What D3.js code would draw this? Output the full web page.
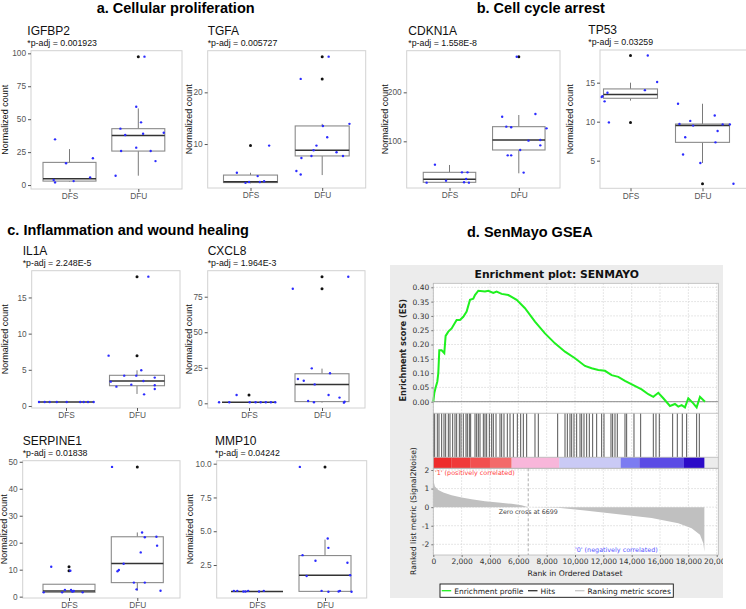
<!DOCTYPE html>
<html><head><meta charset="utf-8">
<script src="https://cdn.jsdelivr.net/npm/d3@7"></script>
<style>body{margin:0;background:#fff} svg{display:block}</style>
</head><body><svg id="c" width="746" height="609"></svg>
<script>
// ---------------- DATA ----------------
const sectionTitles = ["a. Cellular proliferation", "b. Cell cycle arrest", "c. Inflammation and wound healing", "d. SenMayo GSEA"];
const genes = ["IGFBP2", "TGFA", "CDKN1A", "TP53", "IL1A", "CXCL8", "SERPINE1", "MMP10"];
const pAdj = ["0.001923", "0.005727", "1.558E-8", "0.03259", "2.248E-5", "1.964E-3", "0.01838", "0.04242"];
const groups = ["DFS", "DFU"];
const yTickValues = [[0, 25, 50, 75, 100], [10, 20], [100, 200], [5, 10, 15], [0, 5, 10, 15], [0, 25, 50, 75], [0, 10, 20, 30, 40, 50], [2.5, 5, 7.5, 10]];

// jittered samples: [normalized count, jitter (fraction of category step)]
const IGFBP2_DFS = [[34.7, -0.21], [3.8, -0.23], [2.0, -0.21], [16.5, -0.05], [3.0, 0.06], [5.8, 0.30], [20.3, 0.34]];
const IGFBP2_DFU = [[97.5, 0.09], [59.5, -0.03], [47.6, 0.04], [42.8, -0.26], [38, -0.19], [39, 0.07], [39.7, 0.37], [28.4, -0.03], [25.8, -0.25], [25.8, 0.18], [18.2, 0.25], [7.1, -0.33]];
const TGFA_DFS = [[4.45, -0.19], [2.5, -0.07], [2.65, -0.02], [3.8, 0.10], [2.65, 0.13], [2.8, 0.19], [9.7, 0.26]];
const TGFA_DFU = [[26.9, 0.09], [22.6, -0.30], [13.5, 0.01], [13.9, 0.38], [11.3, 0.07], [9.7, -0.08], [8.8, -0.12], [7.3, -0.29], [7.7, -0.15], [8.4, 0.20], [7.7, 0.29], [4.8, -0.36], [4.1, -0.30]];
const CDKN1A_DFS = [[52.4, -0.21], [15.6, -0.33], [19.7, -0.05], [36.7, 0.18], [36.7, 0.26], [23.1, 0.24], [16.3, 0.21], [15.6, 0.28]];
const CDKN1A_DFU = [[272.8, -0.03], [150.3, -0.24], [155.8, 0.24], [129.9, -0.18], [128.6, -0.11], [126.5, 0.40], [101.4, 0.14], [102.7, 0.31], [91.8, 0.31], [71.4, -0.16], [71.4, -0.11], [82.3, 0.02], [36.1, 0.07]];
const TP53_DFS = [[18.48, 0.24], [15.09, 0.37], [14.04, 0.20], [13.70, -0.32], [13.26, -0.39], [13.17, -0.40], [12.61, -0.36], [9.91, -0.30]];
const TP53_DFU = [[12.3, -0.34], [9.7, -0.32], [10.1, -0.17], [9.5, -0.13], [10.8, 0.17], [9.65, 0.28], [9.65, 0.38], [8.8, 0.21], [8.0, -0.24], [7.35, 0.18], [5.8, -0.27], [4.7, -0.03], [2.04, 0.43]];
const IL1A_DFS = [[0.55, -0.38], [0.55, -0.30], [0.55, -0.23], [0.55, -0.13], [0.55, 0.01], [0.55, 0.20], [0.55, 0.25], [0.55, 0.31], [0.55, 0.39]];
const IL1A_DFU = [[17.88, 0.16], [6.96, -0.40], [4.93, 0.06], [4.19, -0.18], [4.19, -0.01], [3.92, 0.25], [3.36, -0.37], [3.46, 0.09], [2.95, -0.08], [2.67, -0.29], [2.86, 0.25], [1.61, 0.10], [2.35, 0.25]];
const CXCL8_DFS = [[5.85, -0.17], [0.7, -0.41], [0.7, -0.27], [0.7, 0.01], [0.7, 0.09], [0.7, 0.16], [0.7, 0.23], [0.7, 0.30], [0.7, 0.36]];
const CXCL8_DFU = [[89, 0.36], [80.6, -0.40], [24.6, -0.14], [21.1, 0.11], [17.1, -0.33], [15.9, -0.25], [13.3, -0.10], [5.85, 0.09], [4.0, 0.24], [1.64, -0.19], [0.7, -0.11], [1.17, 0.31], [0.47, 0.30]];
const SERPINE1_DFS = [[11.1, -0.26], [9.6, 0.02], [1.6, -0.37], [1.6, -0.10], [2.47, -0.06], [2.47, 0.03], [1.85, 0.05], [2.1, 0.07], [1.6, 0.20]];
const SERPINE1_DFU = [[48.1, -0.37], [23.8, 0.07], [22.0, 0.11], [22.2, 0.28], [18.9, 0.29], [16.4, 0.05], [12.2, -0.20], [9.9, -0.27], [9.4, -0.29], [5.2, -0.05], [5.2, 0.11], [2.7, -0.01], [2.2, 0.34]];
const MMP10_DFS = [[0.59, -0.34], [0.59, -0.29], [0.54, -0.20], [0.54, -0.17], [0.59, -0.13], [0.54, 0.03], [0.59, 0.10]];
const MMP10_DFU = [[9.76, -0.37], [4.46, 0.04], [3.77, 0.05], [3.23, -0.33], [2.82, -0.14], [2.67, 0.33], [1.69, -0.27], [1.74, 0.37], [0.59, -0.05], [0.52, 0.05], [0.54, 0.20], [0.59, 0.22], [0.52, 0.39]];

// box statistics per group: [lower whisker, Q1, median, Q3, upper whisker]
const IGFBP2_box = [[2.5, 3.0, 4.8, 17.2, 27.3], [7.1, 25.8, 37.7, 42.8, 58.2]];
const TGFA_box = [[2.4, 2.55, 2.7, 4.0, 4.45], [4.0, 7.7, 8.8, 13.5, 13.9]];
const CDKN1A_box = [[15.6, 16.3, 22.4, 36.7, 51.7], [34.7, 82.3, 102.7, 129.9, 153.7]];
const TP53_box = [[12.7, 13.0, 13.5, 14.2, 15.0], [4.7, 7.35, 9.5, 9.7, 12.3]];
const IL1A_box = [[0.55, 0.55, 0.55, 0.55, 0.55], [1.66, 2.8, 3.46, 4.24, 4.93]];
const CXCL8_box = [[0.7, 0.7, 0.7, 0.7, 0.7], [0.47, 1.2, 13.3, 20.8, 24.4]];
const SERPINE1_box = [[1.6, 1.6, 2.1, 4.6, 4.6], [2.2, 5.2, 12.3, 22.2, 23.8]];
const MMP10_box = [[0.55, 0.55, 0.55, 0.55, 0.55], [0.52, 0.55, 1.74, 3.2, 4.38]];

// outliers per group
const IGFBP2_out = [[], [97.5]];
const TGFA_out = [[9.7], [26.9, 22.6]];
const CDKN1A_out = [[], [272.8]];
const TP53_out = [[18.48, 9.91], [2.04]];
const IL1A_out = [[], [17.88, 6.96]];
const CXCL8_out = [[5.85], [89, 80.6]];
const SERPINE1_out = [[11.1, 9.6], [48.1]];
const MMP10_out = [[], [9.76]];

// GSEA running enrichment score
const esRank = [0, 71, 165, 282, 353, 423, 588, 776, 870, 1058, 1294, 1646, 1882, 2117, 2352, 2588, 2823, 2941, 3176, 3646, 3881, 4234, 4469, 4822, 5293, 5881, 6469, 7175, 7880, 8586, 9292, 9998, 10703, 11174, 11644, 12115, 12585, 13056, 13526, 14114, 14702, 15173, 15526, 15879, 16232, 16702, 17055, 17290, 17526, 17761, 17996, 18349, 18584, 18820, 19173];
const esScore = [0, 0.03, 0.05, 0.07, 0.10, 0.18, 0.18, 0.17, 0.23, 0.245, 0.256, 0.286, 0.286, 0.297, 0.315, 0.356, 0.36, 0.373, 0.388, 0.385, 0.388, 0.38, 0.385, 0.377, 0.373, 0.356, 0.327, 0.28, 0.239, 0.204, 0.175, 0.152, 0.125, 0.117, 0.111, 0.108, 0.093, 0.087, 0.073, 0.058, 0.043, 0.026, 0.017, 0.031, 0.012, -0.015, -0.008, -0.017, -0.012, -0.02, 0.012, -0.006, -0.02, 0.017, 0.0];
// hit positions (rank)
const hitRanks = [20, 97, 284, 402, 590, 755, 873, 1061, 1178, 1367, 1531, 1649, 1837, 1955, 2119, 2307, 2402, 2543, 2637, 2943, 3060, 3178, 3296, 3531, 3648, 3766, 3954, 4119, 4236, 4425, 4707, 4825, 4989, 5224, 5413, 5648, 5930, 6166, 6354, 6589, 7177, 7412, 8777, 9295, 9459, 9647, 9765, 9929, 10117, 10353, 10470, 10635, 10823, 11011, 11246, 11529, 11881, 12046, 12540, 12657, 12822, 12986, 13528, 13645, 14163, 14633, 15527, 15715, 15950, 16891, 17220, 17573, 17879, 18585, 18773];
// ranked list metric (Signal2Noise)
const metricRank = [0, 118, 353, 706, 1294, 2000, 2706, 3646, 4587, 5528, 6234, 6699, 8800, 10703, 13056, 15408, 17290, 18231, 18820, 19055, 19130];
const metricValue = [1.45, 1.11, 0.93, 0.79, 0.64, 0.52, 0.43, 0.32, 0.25, 0.18, 0.10, 0.0, -0.03, -0.18, -0.38, -0.59, -0.86, -1.13, -1.49, -1.94, -2.4];
const zeroCross = 6699;
// colour bar bins (rank boundaries)
const cbBreaks = [0, 1300, 2600, 4000, 5530, 8890, 13225, 14540, 17690, 19130];
const esTicks = [0, 0.05, 0.10, 0.15, 0.20, 0.25, 0.30, 0.35, 0.40];
const metricTicks = [-2, -1, 0, 1, 2];
const rankTicks = [0, 2000, 4000, 6000, 8000, 10000, 12000, 14000, 16000, 18000, 20000];
const legendLabels = ["Enrichment profile", "Hits", "Ranking metric scores"];

// ---------------- DRAWING ----------------
const svg = d3.select("#c");
const F = "'Liberation Sans', Arial, Helvetica, sans-serif";
const G = "'DejaVu Sans', Verdana, sans-serif";

const sampleData = {
  IGFBP2: [IGFBP2_DFS, IGFBP2_DFU], TGFA: [TGFA_DFS, TGFA_DFU], CDKN1A: [CDKN1A_DFS, CDKN1A_DFU], TP53: [TP53_DFS, TP53_DFU],
  IL1A: [IL1A_DFS, IL1A_DFU], CXCL8: [CXCL8_DFS, CXCL8_DFU], SERPINE1: [SERPINE1_DFS, SERPINE1_DFU], MMP10: [MMP10_DFS, MMP10_DFU]
};
const boxData = {IGFBP2: IGFBP2_box, TGFA: TGFA_box, CDKN1A: CDKN1A_box, TP53: TP53_box, IL1A: IL1A_box, CXCL8: CXCL8_box, SERPINE1: SERPINE1_box, MMP10: MMP10_box};
const outData = {IGFBP2: IGFBP2_out, TGFA: TGFA_out, CDKN1A: CDKN1A_out, TP53: TP53_out, IL1A: IL1A_out, CXCL8: CXCL8_out, SERPINE1: SERPINE1_out, MMP10: MMP10_out};

// layout (positions & scale domains)
const layout = {
  IGFBP2:   {x0: 31,    x1: 182,   y0: 50.7,  y1: 189,   c: [69.5, 138.3], bw: 53,   tx: 27.3,  ax: 8,   dom: [-3, 102]},
  TGFA:     {x0: 207.7, x1: 365.7, y0: 50.7,  y1: 188,   c: [250.5, 322.2], bw: 54,  tx: 207.7, ax: 192, dom: [1.5, 28.05]},
  CDKN1A:   {x0: 406.7, x1: 560,   y0: 50.7,  y1: 188,   c: [449.5, 518.8], bw: 52.5, tx: 408.3, ax: 388, dom: [4.7, 285]},
  TP53:     {x0: 600,   x1: 748,   y0: 50,    y1: 188.3, c: [630.5, 702.5], bw: 54,  tx: 588.3, ax: 573, dom: [1.46, 19.19]},
  IL1A:     {x0: 31.7,  x1: 180,   y0: 270.7, y1: 408,   c: [66, 137],     bw: 55,   tx: 22.7,  ax: 8,   dom: [-0.28, 18.7]},
  CXCL8:    {x0: 207.7, x1: 365,   y0: 270.7, y1: 408,   c: [249, 322],    bw: 54,   tx: 207.7, ax: 192, dom: [-3.3, 93.3]},
  SERPINE1: {x0: 22.7,  x1: 180,   y0: 460.7, y1: 598,   c: [69, 137.3],   bw: 52,   tx: 22.7,  ax: 7,   dom: [-0.5, 50.4]},
  MMP10:    {x0: 216.7, x1: 366.7, y0: 460.7, y1: 598,   c: [257, 325],    bw: 52,   tx: 215,   ax: 193, dom: [0.06, 10.22]}
};
const titlePos = [[96.7, 13], [476.7, 13], [7.3, 234.5], [467, 236.5]];

sectionTitles.forEach((t, i) => {
  svg.append("text").attr("x", titlePos[i][0]).attr("y", titlePos[i][1])
    .attr("font-family", F).attr("font-weight", "bold").attr("font-size", 14.5).attr("fill", "#000").text(t);
});

genes.forEach((gName, gi) => {
  const L = layout[gName];
  const g = svg.append("g");
  const x = d3.scalePoint().domain(groups).range(L.c);
  const y = d3.scaleLinear().domain(L.dom).range([L.y1, L.y0]);
  const step = L.c[1] - L.c[0];
  const isMMP = gName === "MMP10";

  // titles
  g.append("text").attr("x", L.tx).attr("y", L.y0 - 16.2).attr("font-family", F).attr("font-size", 12)
    .attr("fill", "#111").text(gName);
  g.append("text").attr("x", L.tx).attr("y", L.y0 - 4.6).attr("font-family", F).attr("font-size", 8.8)
    .attr("fill", "#111").text("*p-adj = " + pAdj[gi]);

  // panel
  g.append("rect").attr("x", L.x0).attr("y", L.y0).attr("width", L.x1 - L.x0).attr("height", L.y1 - L.y0)
    .attr("fill", "#fff").attr("stroke", "#d2d2d2").attr("stroke-width", 1);

  // y axis
  const ya = g.append("g").attr("transform", `translate(${L.x0},0)`)
    .call(d3.axisLeft(y).tickValues(yTickValues[gi]).tickSize(3).tickPadding(2)
      .tickFormat(isMMP ? d3.format(".1f") : d3.format("d")));
  ya.select(".domain").remove();
  ya.selectAll("line").attr("stroke", "#555");
  ya.selectAll("text").attr("font-family", F).attr("font-size", 8.3).attr("fill", "#555");

  // x axis
  const xa = g.append("g").attr("transform", `translate(0,${L.y1})`)
    .call(d3.axisBottom(x).tickSize(3).tickPadding(1.5));
  xa.select(".domain").remove();
  xa.selectAll("line").attr("stroke", "#555");
  xa.selectAll("text").attr("font-family", F).attr("font-size", 8.3).attr("fill", "#555");

  // y axis title
  g.append("text").attr("transform", `translate(${L.ax},${(L.y0 + L.y1) / 2}) rotate(-90)`)
    .attr("text-anchor", "middle").attr("font-family", F).attr("font-size", 9).attr("fill", "#111")
    .text("Normalized count");

  // boxes
  groups.forEach((grp, i) => {
    const s = boxData[gName][i];
    const cx = x(grp);
    const w = L.bw;
    g.append("line").attr("x1", cx).attr("x2", cx).attr("y1", y(s[0])).attr("y2", y(s[1]))
      .attr("stroke", "#7a7a7a").attr("stroke-width", 1);
    g.append("line").attr("x1", cx).attr("x2", cx).attr("y1", y(s[3])).attr("y2", y(s[4]))
      .attr("stroke", "#7a7a7a").attr("stroke-width", 1);
    g.append("rect").attr("x", cx - w / 2).attr("y", y(s[3])).attr("width", w)
      .attr("height", Math.max(0, y(s[1]) - y(s[3]))).attr("fill", "#fff")
      .attr("stroke", "#8a8a8a").attr("stroke-width", 1.1);
    g.append("line").attr("x1", cx - w / 2).attr("x2", cx + w / 2).attr("y1", y(s[2])).attr("y2", y(s[2]))
      .attr("stroke", "#333").attr("stroke-width", 1.5);
    outData[gName][i].forEach(v => {
      g.append("circle").attr("cx", cx).attr("cy", y(v)).attr("r", 1.5).attr("fill", "#111");
    });
    sampleData[gName][i].forEach(p => {
      g.append("circle").attr("cx", cx + p[1] * step).attr("cy", y(p[0])).attr("r", 1.2)
        .attr("fill", "#2b2bff");
    });
  });
});

// ---------------- GSEA panel ----------------
const defs = svg.append("defs");
defs.append("clipPath").attr("id", "dclip").append("rect").attr("x", 390).attr("y", 265).attr("width", 333).attr("height", 333);
const d = svg.append("g").attr("clip-path", "url(#dclip)");
d.append("rect").attr("x", 390).attr("y", 265).attr("width", 333).attr("height", 333).attr("fill", "#ececec");

const X0 = 433.3, X1 = 718.3;
const xs = d3.scaleLinear().domain([0, 20000]).range([433.3, 716.7]);
const ys = d3.scaleLinear().domain([0, 0.4]).range([401.7, 287.3]);
const ym = d3.scaleLinear().domain([-2, 2]).range([544.3, 470]);
const esTop = 283.3, esBot = 413.3, hitBot = 457.3, cbBot = 468.3, mBot = 555;

d.append("text").attr("x", 556.7).attr("y", 278.2).attr("text-anchor", "middle").attr("font-family", G)
  .attr("font-weight", "bold").attr("font-size", 10.8).attr("fill", "#111").text("Enrichment plot: SENMAYO");

// white plot areas
d.append("rect").attr("x", X0).attr("y", esTop).attr("width", X1 - X0).attr("height", hitBot - esTop).attr("fill", "#fff");
d.append("rect").attr("x", X0).attr("y", cbBot).attr("width", X1 - X0).attr("height", mBot - cbBot).attr("fill", "#fff");

// grid
const grid = d.append("g").attr("stroke", "#d6d6d6").attr("stroke-width", 0.8).attr("stroke-dasharray", "1.5,1.5");
rankTicks.forEach(t => {
  grid.append("line").attr("x1", xs(t)).attr("x2", xs(t)).attr("y1", esTop).attr("y2", hitBot);
  grid.append("line").attr("x1", xs(t)).attr("x2", xs(t)).attr("y1", cbBot).attr("y2", mBot);
});
esTicks.forEach(t => grid.append("line").attr("x1", X0).attr("x2", X1).attr("y1", ys(t)).attr("y2", ys(t)));
metricTicks.forEach(t => grid.append("line").attr("x1", X0).attr("x2", X1).attr("y1", ym(t)).attr("y2", ym(t)));

// ES zero line
d.append("line").attr("x1", X0).attr("x2", X1).attr("y1", ys(0)).attr("y2", ys(0)).attr("stroke", "#8c8c8c").attr("stroke-width", 1);

// ES curve
const esPts = esRank.map((r, i) => [r, esScore[i]]);
d.append("path").datum(esPts).attr("fill", "none").attr("stroke", "#1ff01f").attr("stroke-width", 2)
  .attr("d", d3.line().x(p => xs(p[0])).y(p => ys(p[1])));

// hits
d.append("g").selectAll("line").data(hitRanks).join("line")
  .attr("x1", r => xs(r)).attr("x2", r => xs(r)).attr("y1", esBot).attr("y2", hitBot)
  .attr("stroke", "#222").attr("stroke-width", 0.9).attr("opacity", 0.85);

// colour bar
const cbColors = ["#ee2b2b", "#f03a3a", "#f24f4f", "#f36a6a", "#f8b6da", "#cacaf5", "#7c7cf1", "#5b4be5", "#2c0bc8"];
for (let i = 0; i < cbBreaks.length - 1; i++) {
  d.append("rect").attr("x", xs(cbBreaks[i])).attr("y", hitBot).attr("width", xs(cbBreaks[i + 1]) - xs(cbBreaks[i]))
    .attr("height", cbBot - hitBot).attr("fill", cbColors[i]);
}

// frames
d.append("rect").attr("x", X0).attr("y", esTop).attr("width", X1 - X0).attr("height", cbBot - esTop)
  .attr("fill", "none").attr("stroke", "#b8b8b8").attr("stroke-width", 0.8);
[esBot, hitBot].forEach(yy => d.append("line").attr("x1", X0).attr("x2", X1).attr("y1", yy).attr("y2", yy)
  .attr("stroke", "#b8b8b8").attr("stroke-width", 0.8));
d.append("rect").attr("x", X0).attr("y", cbBot).attr("width", X1 - X0).attr("height", mBot - cbBot)
  .attr("fill", "none").attr("stroke", "#b8b8b8").attr("stroke-width", 0.8);

// ranked metric area
const mPts = metricRank.map((r, i) => [r, metricValue[i]]);
d.append("path").datum(mPts).attr("fill", "#c0c0c0").attr("stroke", "none")
  .attr("d", d3.area().x(p => xs(p[0])).y0(ym(0)).y1(p => ym(p[1])));

// zero cross
d.append("line").attr("x1", xs(zeroCross)).attr("x2", xs(zeroCross)).attr("y1", cbBot).attr("y2", mBot)
  .attr("stroke", "#9a9a9a").attr("stroke-width", 0.8).attr("stroke-dasharray", "3,2");
d.append("text").attr("x", xs(zeroCross)).attr("y", 514).attr("text-anchor", "middle").attr("font-family", G)
  .attr("font-size", 6.3).attr("fill", "#444").text("Zero cross at " + zeroCross);
d.append("text").attr("x", 435).attr("y", 474.8).attr("font-family", G).attr("font-size", 6.4)
  .attr("fill", "#ff3c3c").text("'1' (positively correlated)");
d.append("text").attr("x", 575).attr("y", 551.6).attr("font-family", G).attr("font-size", 6.4)
  .attr("fill", "#5555ff").text("'0' (negatively correlated)");

// axes
const esAx = d.append("g").attr("transform", `translate(${X0},0)`)
  .call(d3.axisLeft(ys).tickValues(esTicks).tickSize(2).tickPadding(2).tickFormat(d3.format(".2f")));
const mAx = d.append("g").attr("transform", `translate(${X0},0)`)
  .call(d3.axisLeft(ym).tickValues(metricTicks).tickSize(2).tickPadding(2).tickFormat(d3.format("d")));
const rAx = d.append("g").attr("transform", `translate(0,${mBot})`)
  .call(d3.axisBottom(xs).tickValues(rankTicks).tickSize(2).tickPadding(2).tickFormat(d3.format(",")));
[esAx, mAx, rAx].forEach(a => {
  a.select(".domain").remove();
  a.selectAll("line").attr("stroke", "#777");
  a.selectAll("text").attr("font-family", G).attr("font-size", 7.5).attr("fill", "#333");
});
mAx.selectAll("text").text(v => v < 0 ? "-" + Math.abs(v) : v);

d.append("text").attr("transform", `translate(406,${(esTop + esBot) / 2 + 2}) rotate(-90)`).attr("text-anchor", "middle")
  .attr("font-family", G).attr("font-weight", "bold").attr("font-size", 8.2).attr("fill", "#222").text("Enrichment score (ES)");
d.append("text").attr("transform", `translate(415.5,511) rotate(-90)`).attr("text-anchor", "middle")
  .attr("font-family", G).attr("font-size", 7.7).attr("fill", "#222").text("Ranked list metric (Signal2Noise)");
d.append("text").attr("x", 575).attr("y", 575.5).attr("text-anchor", "middle").attr("font-family", G)
  .attr("font-size", 7.7).attr("fill", "#222").text("Rank in Ordered Dataset");

// legend
d.append("rect").attr("x", 440).attr("y", 584).attr("width", 233.3).attr("height", 13.3)
  .attr("fill", "#fff").attr("stroke", "#111").attr("stroke-width", 0.9);
const legStroke = ["#1ff01f", "#333", "#c8c8c8"];
const legX = [441.7, 528, 575];
legendLabels.forEach((t, i) => {
  d.append("line").attr("x1", legX[i]).attr("x2", legX[i] + 9.5).attr("y1", 590.7).attr("y2", 590.7)
    .attr("stroke", legStroke[i]).attr("stroke-width", 1.3);
  d.append("text").attr("x", legX[i] + 12.5).attr("y", 593.8).attr("font-family", G).attr("font-size", 7.5)
    .attr("fill", "#222").text(t);
});
</script></body></html>
